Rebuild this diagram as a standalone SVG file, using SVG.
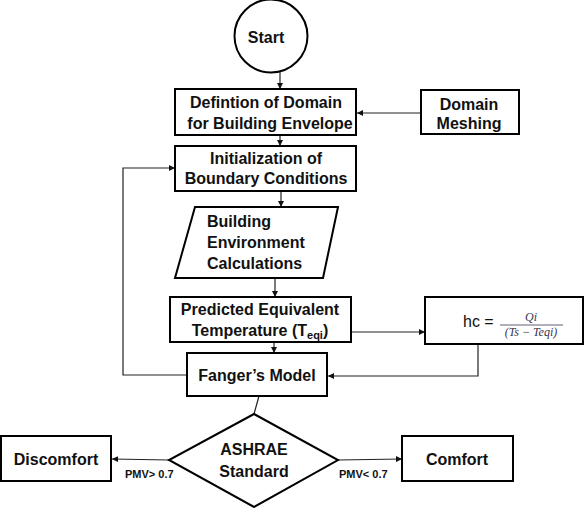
<svg xmlns="http://www.w3.org/2000/svg" width="584" height="508" viewBox="0 0 584 508">
<style>
.box{fill:#fff;stroke:#000;stroke-width:2}
.t{font-family:"Liberation Sans",Arial,sans-serif;font-weight:bold;font-size:16px;fill:#111}
.c{text-anchor:middle}
.lbl{font-family:"Liberation Sans",Arial,sans-serif;font-weight:bold;font-size:11px;fill:#111}
.ln{fill:none;stroke:#222;stroke-width:1.2}
.m{font-family:"Liberation Serif","Times New Roman",serif;font-style:italic;font-size:12px;fill:#3b3550}
</style>
<defs>
<marker id="ah" viewBox="0 0 10 10" refX="10" refY="5" markerWidth="6" markerHeight="6" orient="auto" markerUnits="userSpaceOnUse">
<path d="M0,0 L10,5 L0,10 z" fill="#111"/>
</marker>
</defs>
<rect width="584" height="508" fill="#fff"/>
<g id="connectors">
<line class="ln" x1="280" y1="72" x2="280" y2="89" marker-end="url(#ah)"/>
<line class="ln" x1="421" y1="113" x2="357" y2="113" marker-end="url(#ah)"/>
<line class="ln" x1="280" y1="135" x2="280" y2="146" marker-end="url(#ah)"/>
<line class="ln" x1="281" y1="191" x2="281" y2="207" marker-end="url(#ah)"/>
<line class="ln" x1="275" y1="278" x2="275" y2="297" marker-end="url(#ah)"/>
<line class="ln" x1="351" y1="332" x2="425" y2="332" marker-end="url(#ah)"/>
<line class="ln" x1="274" y1="342" x2="274" y2="353" marker-end="url(#ah)"/>
<polyline class="ln" points="478,344 478,376 328,376" marker-end="url(#ah)"/>
<polyline class="ln" points="187,375 123,375 123,168 175,168" marker-end="url(#ah)"/>
<line class="ln" x1="259" y1="396" x2="254" y2="414"/>
<line class="ln" x1="169" y1="460" x2="112" y2="459" marker-end="url(#ah)"/>
<line class="ln" x1="338" y1="460" x2="402" y2="459" marker-end="url(#ah)"/>
</g>
<g id="start">
<circle class="box" cx="271" cy="36" r="36.5"/>
<text class="t c" x="266" y="43">Start</text>
</g>
<g id="domain-def">
<rect class="box" x="175" y="89" width="181" height="46"/>
<text class="t c" x="266" y="108">Defintion of Domain</text>
<text class="t c" x="270" y="129">for Building Envelope</text>
</g>
<g id="domain-meshing">
<rect class="box" x="421" y="90" width="98" height="44"/>
<text class="t c" x="469" y="110">Domain</text>
<text class="t c" x="469" y="129">Meshing</text>
</g>
<g id="init-bc">
<rect class="box" x="175" y="146" width="181" height="45"/>
<text class="t c" x="266" y="164">Initialization of</text>
<text class="t c" x="266" y="184">Boundary Conditions</text>
</g>
<g id="building-env">
<polygon class="box" points="195,207 338,207 323,278 175,278"/>
<text class="t" x="207" y="227">Building</text>
<text class="t" x="207" y="248">Environment</text>
<text class="t" x="207" y="269">Calculations</text>
</g>
<g id="pet">
<rect class="box" x="170" y="297" width="181" height="45"/>
<text class="t c" x="260" y="315">Predicted Equivalent</text>
<text class="t c" x="260" y="336">Temperature (T<tspan font-size="11" dy="3">eqi</tspan><tspan dy="-3">)</tspan></text>
</g>
<g id="hc">
<rect class="box" x="425" y="297" width="158" height="47"/>
<text x="463" y="327" font-family="Liberation Sans,Arial,sans-serif" font-size="16" fill="#111">hc =</text>
<text class="m c" x="531" y="321">Qi</text>
<line x1="500" y1="325" x2="563" y2="325" stroke="#3b3550" stroke-width="0.8"/>
<text class="m c" x="531" y="336">(Ts − Teqi)</text>
</g>
<g id="fanger">
<rect class="box" x="187" y="353" width="140" height="43"/>
<text class="t c" x="257" y="381">Fanger’s Model</text>
</g>
<g id="ashrae">
<polygon class="box" points="254,414 338,460 254,507 169,460"/>
<text class="t c" x="254" y="455">ASHRAE</text>
<text class="t c" x="254" y="477">Standard</text>
</g>
<g id="discomfort">
<rect class="box" x="1" y="436" width="110" height="45"/>
<text class="t c" x="56" y="465">Discomfort</text>
</g>
<g id="comfort">
<rect class="box" x="402" y="436" width="111" height="45"/>
<text class="t c" x="457" y="465">Comfort</text>
</g>
<g id="labels">
<text class="lbl" x="125" y="478">PMV&gt; 0.7</text>
<text class="lbl" x="339" y="478">PMV&lt; 0.7</text>
</g>
</svg>
